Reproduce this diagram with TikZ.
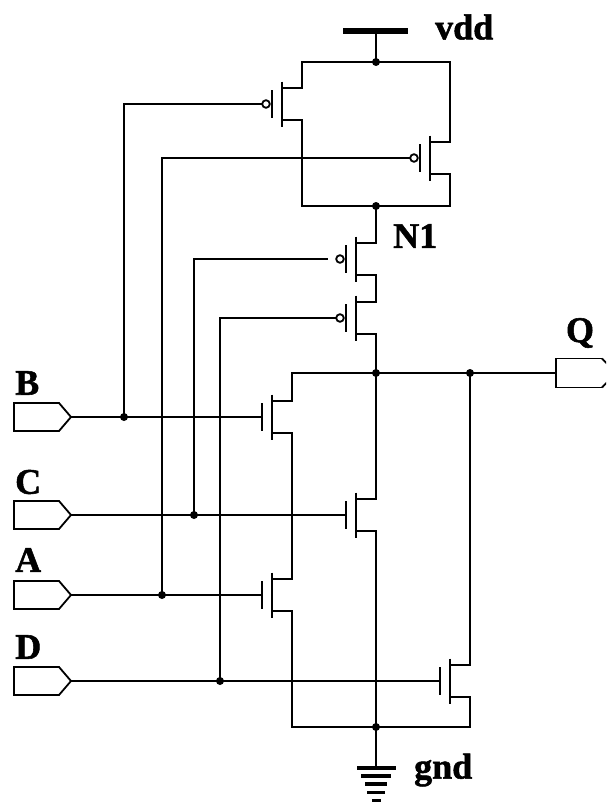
\documentclass[tikz,border=0pt]{standalone}
\usepackage{fontspec}
\setmainfont[BoldFeatures={FakeBold=1.5}]{Liberation Serif}
\tikzset{
  x=1pt,y=-1pt,
  wire/.style={line width=2pt,line cap=rect,line join=miter},
  junction/.style={circle,fill=black,inner sep=0pt,minimum size=8pt},
  lbl/.style={inner sep=0pt,font=\fontsize{36}{36}\selectfont\bfseries,text=black},
  fet/.style={line width=2pt,line join=miter},
  nfet/.pic={
    \draw[fet] (-10,-14) -- (-10,14);
    \draw[fet] (0,-22.5) -- (0,22.5);
    \draw[fet] (0,-16) -- (20,-16);
    \draw[fet] (0,16) -- (20,16);
    \coordinate (-g) at (-10,0);
    \coordinate (-d) at (20,-16);
    \coordinate (-s) at (20,16);
  },
  pfet/.pic={
    \draw[fet] (-10,-14) -- (-10,14);
    \draw[fet] (0,-22.5) -- (0,22.5);
    \draw[fet] (0,-16) -- (20,-16);
    \draw[fet] (0,16) -- (20,16);
    \draw[line width=1.8pt] (-16,0) circle (3.8);
    \coordinate (-g) at (-20,0);
    \coordinate (-d) at (20,-16);
    \coordinate (-s) at (20,16);
  },
  inpin/.pic={
    \draw[line width=1.8pt,line join=miter] (0,-14) -- (45,-14) -- (57,0) -- (45,14) -- (0,14) -- cycle;
    \coordinate (-tip) at (57,0);
  },
  outpin/.pic={
    \draw[line width=1.8pt,line join=miter] (46,-14.5) -- (0,-14.5) -- (0,14.5) -- (46,14.5);
    \draw[line width=1.8pt] (46,-14.5) -- (60,0) -- (46,14.5);
    \coordinate (-in) at (0,0);
  }
}
\begin{document}
\begin{tikzpicture}
\useasboundingbox (0,0) rectangle (606,803);
\clip (0,0) rectangle (606,803);
% transistors
\pic (pB) at (282,104) {pfet};
\pic (pA) at (430,158) {pfet};
\pic (pC) at (356,259) {pfet};
\pic (pD) at (356,318) {pfet};
\pic (nB) at (272,417) {nfet};
\pic (nC) at (356,515) {nfet};
\pic (nA) at (272,595) {nfet};
\pic (nD) at (450,681) {nfet};
% pins
\pic (inB) at (14,417) {inpin};
\pic (inC) at (14,515) {inpin};
\pic (inA) at (14,595) {inpin};
\pic (inD) at (14,681) {inpin};
\pic (outQ) at (556,373) {outpin};
% junctions
\node[junction] (top) at (376,62) {};
\node[junction] (nOne) at (376,206) {};
\node[junction] (out) at (376,373) {};
\node[junction] (outR) at (470,373) {};
\node[junction] (bot) at (376,727) {};
\node[junction] (jB) at (124,417) {};
\node[junction] (jC) at (194,515) {};
\node[junction] (jA) at (162,595) {};
\node[junction] (jD) at (220,681) {};
% rails
\coordinate (vddS) at (376,30);
\coordinate (gndS) at (376,767);
\coordinate (pCw) at (327,259);
\draw[line width=6pt] (343,30.5) -- (408,30.5);
\draw[wire] (vddS) -- (top.center);
\draw[wire] (nOne.center) -| (pC-d);
\draw[wire] (pB-d) |- (top.center);
\draw[wire] (pA-d) |- (top.center);
\draw[wire] (pB-s) |- (nOne.center);
\draw[wire] (pA-s) |- (nOne.center);
\draw[wire] (pC-s) -- (pD-d);
\draw[wire] (pD-s) -- (out.center);
\draw[wire] (out.center) -- (nC-d);
\draw[wire] (nC-s) -- (bot.center);
\draw[wire] (nB-d) |- (out.center);
\draw[wire] (out.center) -- (outR.center) -- (outQ-in);
\draw[wire] (nB-s) -- (nA-d);
\draw[wire] (nA-s) |- (bot.center);
\draw[wire] (outR.center) -- (nD-d);
\draw[wire] (nD-s) |- (bot.center);
\draw[wire] (bot.center) -- (gndS);
% inputs
\draw[wire] (inB-tip) -- (jB.center) -- (nB-g);
\draw[wire] (inC-tip) -- (jC.center) -- (nC-g);
\draw[wire] (inA-tip) -- (jA.center) -- (nA-g);
\draw[wire] (inD-tip) -- (jD.center) -- (nD-g);
\draw[wire] (jB.center) |- (pB-g);
\draw[wire] (jA.center) |- (pA-g);
\draw[wire] (jC.center) |- (pCw);
\draw[wire] (jD.center) |- (pD-g);
% ground symbol
\draw[line width=4pt] (357,768) -- (396,768);
\draw[line width=3.5pt] (361,776) -- (391,776);
\draw[line width=3.5pt] (365,784) -- (387,784);
\draw[line width=3pt] (367,792) -- (385,792);
\draw[line width=3pt] (372,800) -- (381,800);
% labels
\node[lbl,anchor=west] (lvdd) at (435,27) {vdd};
\node[lbl,anchor=west] (lgnd) at (414,770) {gnd};
\node[lbl,anchor=west] (lN) at (393,236) {N1};
\node[lbl] (lQ) at (580,333) {Q};
\node[lbl,anchor=west] (lB) at (15,383) {B};
\node[lbl,anchor=west] (lC) at (15,482) {C};
\node[lbl,anchor=west] (lA) at (15,560) {A};
\node[lbl,anchor=west] (lD) at (15,647) {D};
\end{tikzpicture}
\end{document}
